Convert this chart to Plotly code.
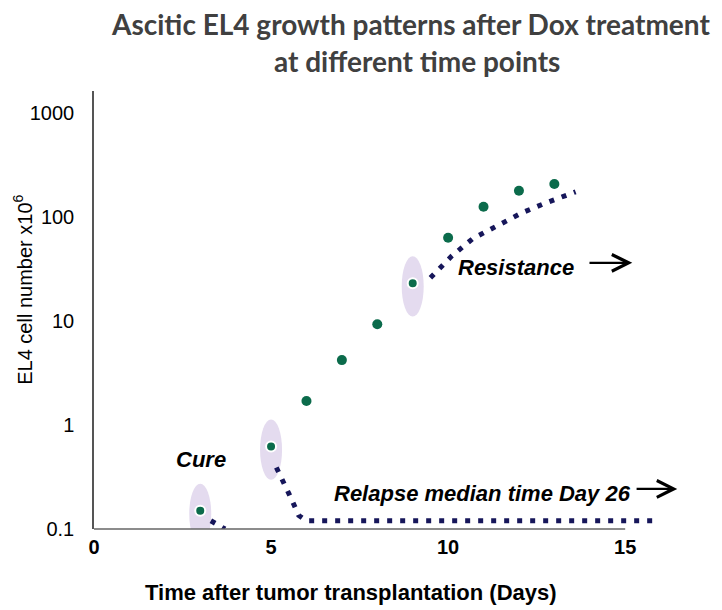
import plotly.graph_objects as go

# measured tumour cells (x10^6) per day
days = [3, 5, 6, 7, 8, 9, 10, 11, 12, 13]
cells = [0.15, 0.62, 1.7, 4.2, 9.3, 23, 63, 125, 178, 207]
treated_days = [3, 5, 9]  # Dox given at these days (circled)

# dotted outcome curves after treatment
cure_days = [3.3, 3.7]
cure_cells = [0.12, 0.1]
relapse_days = [5.15, 5.35, 5.5, 5.65, 5.78, 6.0, 15.9]
relapse_cells = [0.39, 0.29, 0.22, 0.17, 0.135, 0.12, 0.12]
resist_days = [9.5, 10.1, 10.7, 11.4, 12.1, 12.8, 13.6]
resist_cells = [26, 42, 62, 83, 110, 138, 174]

x_ticks = [0, 5, 10, 15]
y_ticks = [0.1, 1, 10, 100, 1000]

NAVY = '#16165a'
GREEN = '#0b6b4b'
FONT = 'Liberation Sans, Arial, sans-serif'

fig = go.Figure()

# lavender ellipses around the treatment time points
for d in treated_days:
    v = cells[days.index(d)]
    fig.add_shape(type='circle', xref='x', yref='y',
                  xsizemode='pixel', xanchor=d, x0=-11, x1=11,
                  y0=v * 10 ** -0.32, y1=v * 10 ** 0.26,
                  fillcolor='#e4dbef', line_width=0, layer='below')

dotted = dict(color=NAVY, width=5, dash='5px,8px')
for xs, ys in [(cure_days, cure_cells), (relapse_days, relapse_cells), (resist_days, resist_cells)]:
    fig.add_trace(go.Scatter(x=xs, y=ys, mode='lines', line=dotted,
                             hoverinfo='skip', showlegend=False))

fig.add_trace(go.Scatter(
    x=days, y=cells, mode='markers',
    marker=dict(size=10, color=GREEN,
                line=dict(color='white', width=[2 if d in treated_days else 0 for d in days])),
    showlegend=False
))

# x axis baseline only runs to day 15
fig.add_shape(type='line', xref='x', yref='paper', x0=0, x1=15, y0=0, y1=0,
              line=dict(color='#666666', width=1.5))

label_font = dict(family=FONT, size=22, color='black')
fig.add_annotation(x=3.02, y=-0.33, xref='x', yref='y', text='<b><i>Cure</i></b>',
                   showarrow=False, font=label_font)
fig.add_annotation(x=11.92, y=1.51, xref='x', yref='y', text='<b><i>Resistance</i></b>',
                   showarrow=False, font=label_font)
fig.add_annotation(x=10.96, y=-0.654, xref='x', yref='y',
                   text='<b><i>Relapse median time Day 26</i></b>',
                   showarrow=False, font=label_font)

# arrows
for hx, hy, tx in [(15.2, 1.558, 13.95), (16.47, -0.615, 15.28)]:
    fig.add_annotation(x=hx, y=hy, ax=tx, ay=hy, xref='x', yref='y', axref='x', ayref='y',
                       text='', showarrow=True, arrowhead=5, arrowsize=1.5,
                       arrowwidth=2.2, arrowcolor='black')

# title and axis titles as annotations for exact placement
title_font = dict(family='Lato, sans-serif', size=28, color='#404040', weight='bold')
fig.add_annotation(x=0.525, y=1.153, xref='paper', yref='paper', showarrow=False,
                   xanchor='center', yanchor='middle',
                   text='Ascitic EL4 growth patterns after Dox treatment', font=title_font)
fig.add_annotation(x=0.537, y=1.068, xref='paper', yref='paper', showarrow=False,
                   xanchor='center', yanchor='middle',
                   text='at different time points', font=title_font)
fig.add_annotation(x=0.427, y=-0.144, xref='paper', yref='paper', showarrow=False,
                   xanchor='center', yanchor='middle',
                   text='<b>Time after tumor transplantation (Days)</b>',
                   font=dict(family=FONT, size=22, color='black'))
fig.add_annotation(x=-0.118, y=0.546, xref='paper', yref='paper', showarrow=False,
                   xanchor='center', yanchor='middle',
                   textangle=-90, text='EL4 cell number x10<sup>6</sup>',
                   font=dict(family=FONT, size=20, color='black'))

# page body adds an 8px offset, so the plot box is placed 8px up/left
fig.update_layout(
    width=722, height=610,
    margin=dict(l=86, r=34, t=83, b=89),
    plot_bgcolor='white', paper_bgcolor='white',
    xaxis=dict(range=[0, 17], tickvals=x_ticks, ticktext=[str(t) for t in x_ticks],
               showline=False, showgrid=False, zeroline=False, ticks='', automargin=False,
               tickfont=dict(family=FONT, size=20, color='black', weight='bold'),
               ticklabelstandoff=4),
    yaxis=dict(type='log', range=[-1, 3.21], tickvals=y_ticks,
               ticktext=['0.1', '1', '10', '100', '1000'],
               showline=True, linecolor='#555555', linewidth=1.5,
               showgrid=False, zeroline=False, ticks='', automargin=False,
               tickfont=dict(family=FONT, size=20, color='black'),
               ticklabelstandoff=14),
)

fig.write_html('out.html')
